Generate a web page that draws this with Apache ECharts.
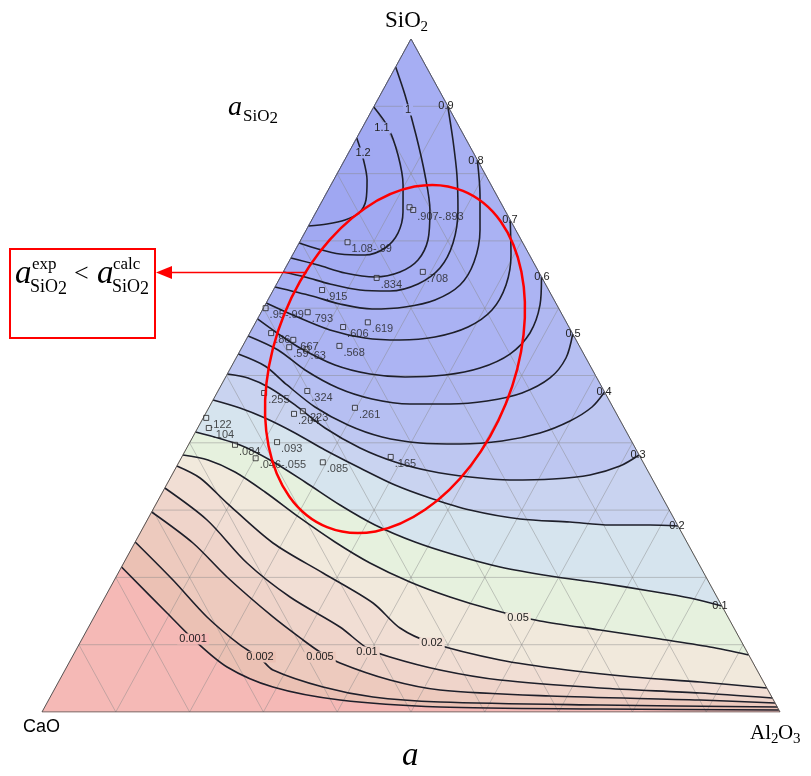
<!DOCTYPE html>
<html><head><meta charset="utf-8">
<script src="https://cdn.jsdelivr.net/npm/echarts@6/dist/echarts.min.js"></script>
<style>html,body{margin:0;padding:0;background:#fff}#c{width:811px;height:776px}</style>
</head><body><div id="c"></div>
<script>
// ---- DATA (ternary mole fractions: [Al2O3, SiO2]; CaO = 1 - Al2O3 - SiO2) ----
const gridTicks = [0.1,0.2,0.3,0.4,0.5,0.6,0.7,0.8,0.9];

const iso_1_2 = [[0,0.8529],[0.0234,0.8232],[0.0452,0.7905],[0.0586,0.7608],[0.0588,0.7415],[0.0451,0.7311],[0.0236,0.7251],[0,0.7221]];
const iso_1_1 = [[0,0.8990],[0.0342,0.8692],[0.0686,0.8276],[0.0977,0.7831],[0.1177,0.7429],[0.1265,0.7117],[0.1201,0.6895],[0.0982,0.6790],[0.0635,0.6805],[0.0300,0.6880],[0,0.6969]];
const iso_1_0 = [[0,0.9584],[0.0335,0.9168],[0.0781,0.8574],[0.1200,0.7979],[0.1527,0.7459],[0.1723,0.7013],[0.1737,0.6716],[0.1582,0.6538],[0.1280,0.6464],[0.0844,0.6523],[0.0419,0.6642],[0,0.6746]];
const iso_0_9 = [[0.0996,0.9004],[0.1319,0.8499],[0.1633,0.7979],[0.1907,0.7459],[0.2085,0.6969],[0.2094,0.6597],[0.1915,0.6360],[0.1587,0.6256],[0.1174,0.6270],[0.0722,0.6360],[0.0332,0.6464],[0,0.6538]];
const iso_0_8 = [[0.1798,0.8202],[0.2094,0.7682],[0.2354,0.7162],[0.2511,0.6686],[0.2492,0.6345],[0.2264,0.6122],[0.1910,0.6018],[0.1478,0.5988],[0.1007,0.6062],[0.0568,0.6181],[0,0.6315]];
const iso_0_7 = [[0.2689,0.7311],[0.2960,0.6790],[0.3115,0.6345],[0.3111,0.5973],[0.2912,0.5721],[0.2539,0.5572],[0.2087,0.5527],[0.1598,0.5557],[0.1064,0.5676],[0.0486,0.5884],[0,0.6077]];
const iso_0_6 = [[0.3536,0.6464],[0.3724,0.6048],[0.3796,0.5632],[0.3681,0.5319],[0.3379,0.5111],[0.2957,0.5007],[0.2430,0.4978],[0.1933,0.5022],[0.1392,0.5156],[0.0792,0.5409],[0.0368,0.5632],[0,0.5840]];
const iso_0_5 = [[0.4383,0.5617],[0.4470,0.5260],[0.4402,0.4963],[0.4134,0.4740],[0.3719,0.4621],[0.3240,0.4577],[0.2698,0.4577],[0.2147,0.4651],[0.1604,0.4814],[0.1023,0.5082],[0.0509,0.5379],[0,0.5587]];
const iso_0_4 = [[0.5245,0.4755],[0.5187,0.4532],[0.4992,0.4324],[0.4675,0.4146],[0.4220,0.4027],[0.3673,0.3982],[0.3123,0.3997],[0.2564,0.4086],[0.2014,0.4264],[0.1433,0.4532],[0.0891,0.4859],[0.0451,0.5141],[0,0.5319]];
const iso_0_3 = [[0.6181,0.3819],[0.6004,0.3655],[0.5664,0.3522],[0.5193,0.3462],[0.4617,0.3447],[0.4053,0.3492],[0.3466,0.3581],[0.2926,0.3715],[0.2348,0.3923],[0.1725,0.4220],[0.1147,0.4562],[0.0682,0.4814],[0.0310,0.4963],[0,0.5022]];
const iso_0_2 = [[0.7236,0.2764],[0.6849,0.2779],[0.6307,0.2779],[0.5742,0.2823],[0.5043,0.2868],[0.4298,0.3001],[0.3667,0.3180],[0.3097,0.3373],[0.2496,0.3626],[0.1888,0.3893],[0.1355,0.4146],[0.0838,0.4368],[0.0424,0.4517],[0,0.4636]];
const iso_0_1 = [[0.8425,0.1575],[0.7933,0.1694],[0.7339,0.1798],[0.6603,0.1917],[0.5873,0.2021],[0.5129,0.2155],[0.4430,0.2333],[0.3791,0.2526],[0.3123,0.2779],[0.2500,0.3076],[0.1855,0.3418],[0.1217,0.3744],[0.0699,0.3967],[0,0.4160]];
const iso_0_05 = [[0.9153,0.0847],[0.8568,0.0966],[0.7832,0.1085],[0.6952,0.1218],[0.6072,0.1352],[0.5305,0.1530],[0.4674,0.1709],[0.4020,0.1932],[0.3337,0.2214],[0.2707,0.2526],[0.2055,0.2883],[0.1388,0.3269],[0.0832,0.3566],[0.0377,0.3744],[0,0.3819]];
const iso_0_02 = [[0,0.3655],[0.0403,0.3477],[0.0954,0.3105],[0.1874,0.2511],[0.2775,0.2065],[0.3675,0.1620],[0.4227,0.1248],[0.4772,0.1025],[0.5820,0.0773],[0.6802,0.0624],[0.7748,0.0520],[0.8693,0.0446],[0.9643,0.0357]];
const iso_0_01 = [[0,0.3328],[0.0810,0.2853],[0.1671,0.2214],[0.2506,0.1709],[0.3406,0.1263],[0.3928,0.0951],[0.4306,0.0817],[0.5081,0.0624],[0.5968,0.0475],[0.7383,0.0357],[0.8775,0.0282],[0.9792,0.0208]];
const iso_0_005 = [[0,0.2972],[0.0790,0.2511],[0.1504,0.2006],[0.2424,0.1412],[0.3002,0.1070],[0.3321,0.0892],[0.3674,0.0728],[0.4477,0.0475],[0.5230,0.0327],[0.6764,0.0238],[0.8827,0.0178],[0.9866,0.0134]];
const iso_0_002 = [[0,0.2526],[0.0794,0.1961],[0.1530,0.1412],[0.2185,0.0996],[0.2553,0.0802],[0.2818,0.0624],[0.3622,0.0371],[0.4374,0.0223],[0.5319,0.0149],[0.7509,0.0104],[0.9926,0.0074]];
const iso_0_001 = [[0,0.2155],[0.0959,0.1471],[0.1504,0.1085],[0.2173,0.0669],[0.2944,0.0371],[0.3949,0.0178],[0.5356,0.0074],[0.7539,0.0045],[0.9970,0.0030]];

const contourLevels = ['0.001','0.002','0.005','0.01','0.02','0.05','0.1','0.2','0.3','0.4','0.5','0.6','0.7','0.8','0.9','1','1.1','1.2'];
const contourLines = [iso_0_001,iso_0_002,iso_0_005,iso_0_01,iso_0_02,iso_0_05,iso_0_1,iso_0_2,iso_0_3,iso_0_4,iso_0_5,iso_0_6,iso_0_7,iso_0_8,iso_0_9,iso_1_0,iso_1_1,iso_1_2];

const contourLabelText = ['1.2','1.1','1','0.9','0.8','0.7','0.6','0.5','0.4','0.3','0.2','0.1','0.05','0.02','0.01','0.005','0.002','0.001'];
const contourLabelAt = [[0.0197,0.8306],[0.0268,0.8678],[0.0486,0.8945],[0.0972,0.9004],[0.1787,0.8187],[0.2686,0.7311],[0.3543,0.6464],[0.4387,0.5617],[0.5238,0.4755],[0.6167,0.3819],[0.7222,0.2764],[0.8399,0.1575],[0.5752,0.1397],[0.4772,0.1025],[0.3958,0.0892],[0.3358,0.0817],[0.2545,0.0817],[0.1504,0.1085]];

// experimental points: [Al2O3, SiO2, label]
const expPoints = [
 [0.123,0.750,''],[0.130,0.746,'.907-.893'],[0.065,0.698,'1.08-.99'],[0.131,0.645,'.834'],
 [0.189,0.654,'.708'],[0.066,0.627,'.915'],[0.003,0.600,'.95-.99'],[0.063,0.594,'.793'],
 [0.122,0.572,'.606'],[0.152,0.579,'.619'],[0.029,0.563,'.86'],[0.064,0.553,'.667'],
 [0.064,0.542,'.59'],[0.089,0.539,'.63'],[0.131,0.544,'.568'],[0.064,0.474,'.255'],
 [0.121,0.477,'.324'],[0.120,0.443,'.204'],[0.130,0.447,'.223'],[0.198,0.452,'.261'],
 [0.004,0.437,'.122'],[0.015,0.422,'.104'],[0.063,0.397,'.084'],[0.118,0.401,'.093'],
 [0.101,0.377,'.046-.055'],[0.195,0.371,'.085'],[0.283,0.379,'.165']
];

// ---- STYLE ----
const baseColor = '#f5b9b6';
const bandColors = ['#ebc1b4','#edcabe','#efd4ca','#f1ded4','#f1e9dc','#e6f1de','#d6e4ee','#c9d3f0','#bec7f1','#b6bff2','#b0b8f2','#acb4f3','#aab2f3','#a8b0f3','#a6aef3','#a3abf2','#a1a9f2','#9fa7f2'];
const loopsOnLeft = [false,false,false,false,false,false,false,false,false,false,false,false,false,false,false,true,true,true];
// background behind in-line contour labels (null = none)
const labelBg = ['#a1a9f2','#a3abf2','#a6aef3',null,null,null,null,null,null,null,null,null,'#f1e9dc','#f1ded4','#efd4ca','#edcabe','#ebc1b4','#f5b9b6'];

const toXY = p => [p[0] + p[1] / 2, p[1]];
const APEX = [0, 1];

const chart = echarts.init(document.getElementById('c'), null, {renderer: 'canvas'});

const fillData = [{pts: [[0,0],[1,0],[0,1]], color: baseColor, apex: false}]
  .concat(contourLines.map((pts, i) => ({pts, color: bandColors[i], apex: !loopsOnLeft[i]})));

const gridSegs = [];
gridTicks.forEach(t => {
  gridSegs.push([[0, t], [1 - t, t]]);
  gridSegs.push([[t, 0], [t, 1 - t]]);
  gridSegs.push([[1 - t, 0], [0, 1 - t]]);
});

const series = [];
series.push({
  type: 'custom', z: 1, silent: true,
  data: fillData.map(() => [0, 0]),
  renderItem: (params, api) => {
    const f = fillData[params.dataIndex];
    const pts = f.pts.map(p => api.coord(toXY(p)));
    if (f.apex) pts.push(api.coord(toXY(APEX)));
    return {type: 'polygon', shape: {points: pts}, style: {fill: f.color, stroke: f.color, lineWidth: 0.5}};
  }
});
series.push({
  type: 'custom', z: 2, silent: true,
  data: gridSegs.map(() => [0, 0]),
  renderItem: (params, api) => {
    const s = gridSegs[params.dataIndex];
    const a = api.coord(toXY(s[0])), b = api.coord(toXY(s[1]));
    return {type: 'line', shape: {x1: a[0], y1: a[1], x2: b[0], y2: b[1]}, style: {stroke: 'rgba(135,135,135,0.45)', lineWidth: 1}};
  }
});
contourLines.forEach((pts, i) => {
  series.push({
    type: 'line', z: 3, silent: true, showSymbol: false, symbol: 'none', smooth: 0.3,
    data: pts.map(toXY),
    lineStyle: {color: '#1e1f2a', width: 1.6}
  });
});
series.push({
  type: 'line', z: 4, silent: true, showSymbol: false, symbol: 'none',
  data: [[0,0],[1,0],[0,1],[0,0]].map(toXY),
  lineStyle: {color: '#555', width: 1}
});
series.push({
  type: 'custom', z: 5, silent: true,
  data: contourLabelAt.map(() => [0, 0]),
  renderItem: (params, api) => {
    const i = params.dataIndex;
    const c = api.coord(toXY(contourLabelAt[i]));
    const st = {text: contourLabelText[i], fill: '#222', font: '11px "Liberation Sans", Arial, sans-serif', align: 'center', verticalAlign: 'middle', textAlign: 'center', textVerticalAlign: 'middle'};
    if (labelBg[i]) { st.backgroundColor = labelBg[i]; st.padding = [0, 2]; }
    return {type: 'text', x: c[0], y: c[1], style: st};
  }
});
series.push({
  type: 'scatter', z: 6, silent: true,
  symbol: 'rect', symbolSize: 5,
  data: expPoints.map(p => toXY(p).concat([p[2]])),
  itemStyle: {color: 'rgba(255,255,255,0.35)', borderColor: '#222', borderWidth: 1},
  label: {show: true, position: 'right', distance: 1, offset: [0, 7], formatter: p => p.data[2], color: '#222', fontSize: 11, fontFamily: '"Liberation Sans", Arial, sans-serif'}
});

const serif = '"Liberation Serif", "Times New Roman", serif';
const txt = (text, x, y, size, italic) => ({
  type: 'text', x, y, z: 100,
  style: {text, fill: '#000', font: (italic ? 'italic ' : '') + size + 'px ' + serif, textAlign: 'left', textVerticalAlign: 'middle', align: 'left', verticalAlign: 'middle'}
});

const graphics = [
  txt('SiO', 385, 21, 23, false), txt('2', 420.5, 27, 15, false),
  txt('a', 228, 107.5, 28, true), txt('SiO', 243, 117, 17, false), txt('2', 269.5, 119, 17, false),
  {type: 'text', x: 23, y: 727, z: 100, style: {text: 'CaO', fill: '#000', font: '18px "Liberation Sans", Arial, sans-serif', textVerticalAlign: 'middle', verticalAlign: 'middle'}},
  txt('Al', 750, 733, 21, false), txt('2', 771, 739, 15, false), txt('O', 778, 733, 21, false), txt('3', 793, 739, 15, false),
  txt('a', 402, 756, 33, true),
  {type: 'rect', z: 100, shape: {x: 10, y: 249, width: 145, height: 89}, style: {stroke: '#ff0000', lineWidth: 2, fill: 'none'}},
  txt('a', 15, 274, 33, true), txt('exp', 32, 265, 17, false), txt('SiO', 30, 287, 18, false), txt('2', 58, 289, 18, false),
  txt('<', 74, 274, 26, false),
  txt('a', 97, 274, 33, true), txt('calc', 113, 265, 17, false), txt('SiO', 112, 287, 18, false), txt('2', 140, 289, 18, false),
  {type: 'line', z: 100, shape: {x1: 168, y1: 272.5, x2: 307, y2: 272.5}, style: {stroke: '#ff0000', lineWidth: 1.5}},
  {type: 'polygon', z: 100, shape: {points: [[156, 272.5], [172, 266], [172, 279]]}, style: {fill: '#ff0000'}},
  {type: 'ellipse', z: 100, x: 395, y: 359, rotation: -0.384, shape: {cx: 0, cy: 0, rx: 119.5, ry: 181.4}, style: {stroke: '#ff0000', lineWidth: 2.5, fill: 'none'}}
];

chart.setOption({
  animation: false,
  backgroundColor: '#fff',
  grid: {left: 42, right: 31, top: 39, bottom: 64, containLabel: false},
  xAxis: {type: 'value', min: 0, max: 1, show: false},
  yAxis: {type: 'value', min: 0, max: 1, show: false},
  series,
  graphic: graphics
});
</script></body></html>
